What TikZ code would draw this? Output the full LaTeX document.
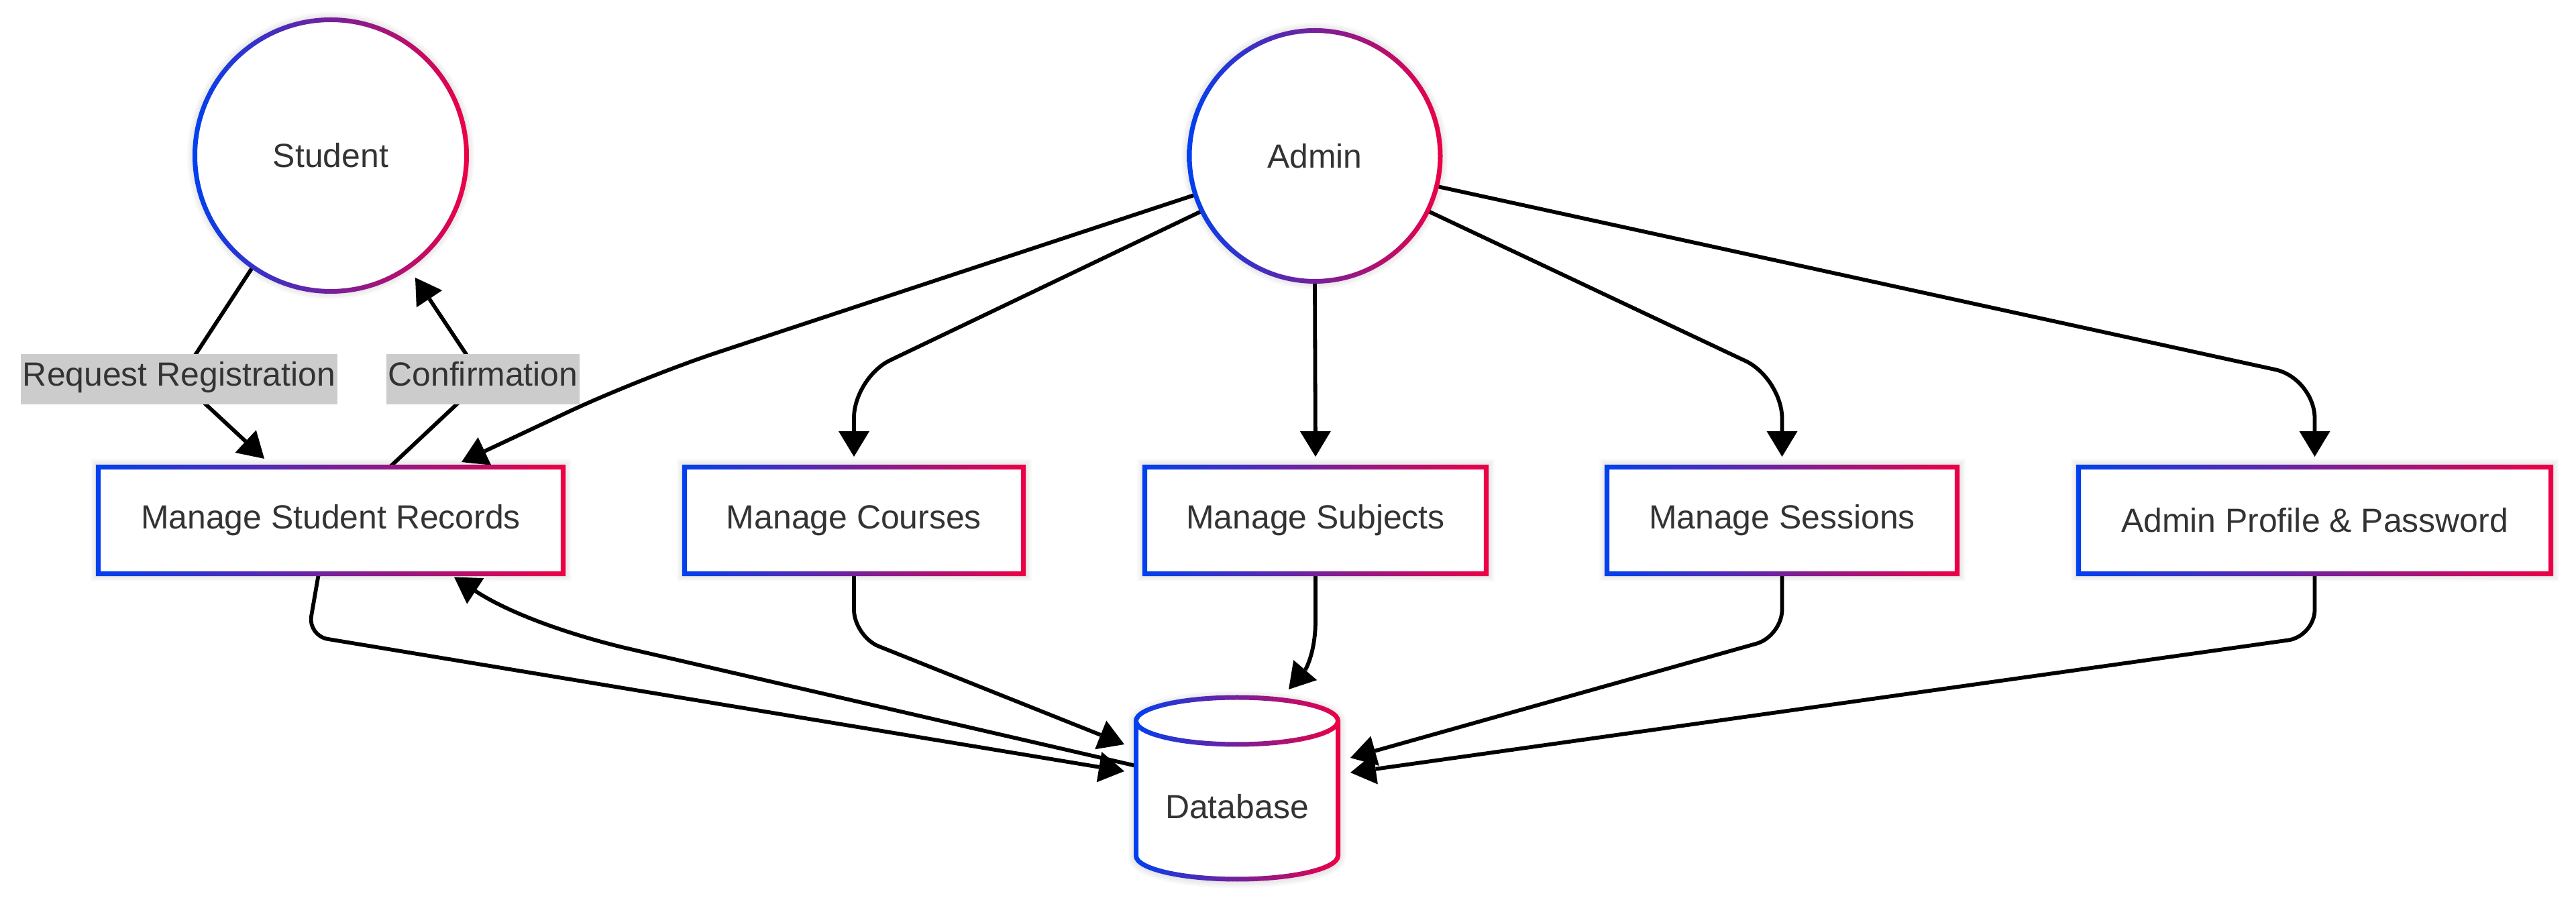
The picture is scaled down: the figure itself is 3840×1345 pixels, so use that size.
\documentclass[tikz,border=0pt]{standalone}
\usepackage{fontspec}
\setmainfont{Liberation Sans}
\usetikzlibrary{arrows.meta,calc}
\definecolor{gblue}{RGB}{0,64,240}
\definecolor{gred}{RGB}{236,0,70}
\definecolor{txt}{HTML}{333333}
\definecolor{lblgray}{HTML}{CCCCCC}
\pgfdeclarelayer{edges}
\pgfdeclarelayer{shapes}
\pgfsetlayers{edges,shapes,main}
\tikzset{
 txtnode/.style={font=\fontsize{14.2pt}{17pt}\selectfont, text=txt, inner sep=0pt, outer sep=0pt},
 actor/.style={txtnode, circle, minimum size=#1},
 procbox/.style={txtnode, rectangle, minimum height=15.9mm, minimum width=#1},
 edgelbl/.style={txtnode, fill=lblgray, inner xsep=0.3mm, minimum height=7.5mm, text height=0.75em, text depth=0.22em},
 conn/.style={line width=0.58mm, black, -{Triangle[length=3.8mm,width=4.6mm,line width=0pt]}},
 gradframe/.style={left color=gblue, right color=gred, even odd rule},
 softshadow/.style={black, opacity=0.018, yshift=-0.15mm},
}
\newcommand\myshadow[1]{%
 \foreach \w in {0.4,0.8,1.2,1.6,2.0,2.4}{\draw[softshadow, line width=\w mm] #1;}}
\newcommand\mydrawboxframe[1]{%
 \myshadow{(#1.north west) rectangle (#1.south east)}
 \fill[white] (#1.north west) rectangle (#1.south east);
 \shade[gradframe] ([shift={(-0.36mm,0.36mm)}]#1.north west) rectangle ([shift={(0.36mm,-0.36mm)}]#1.south east)
   ([shift={(0.36mm,-0.36mm)}]#1.north west) rectangle ([shift={(-0.36mm,0.36mm)}]#1.south east);}
\newcommand\mydrawcircframe[2]{%
 \myshadow{(#1.center) circle[radius=#2mm]}
 \fill[white] (#1.center) circle[radius=#2mm];
 \shade[gradframe] (#1.center) circle[radius=#2mm+0.35mm] (#1.center) circle[radius=#2mm-0.35mm];}
\begin{document}
\begin{tikzpicture}[x=0.1mm,y=-0.1mm]
\useasboundingbox (0,0) rectangle (3840,1345);
% nodes
\node[actor=40.5mm] (student) at (493,232) {Student};
\node[actor=37.4mm] (admin) at (1960,232.5) {Admin};
\node[procbox=69.3mm] (msr) at (493,776) {Manage Student Records};
\node[procbox=50.5mm] (courses) at (1273,776) {Manage Courses};
\node[procbox=50.9mm] (subjects) at (1961,776) {Manage Subjects};
\node[procbox=52.2mm] (sessions) at (2656.5,776) {Manage Sessions};
\node[procbox=70.4mm] (profile) at (3450.5,776) {Admin Profile \& Password};
\node[txtnode, rectangle, minimum width=30.1mm, minimum height=27.1mm,
      label={[txtnode, yshift=-2.75mm]center:Database}] (db) at (1844,1175.5) {};
\node[edgelbl] (lblreq) at (267,566) {Request Registration};
\node[edgelbl] (lblconf) at (720,566) {Confirmation};
% shapes
\begin{pgfonlayer}{shapes}
 \mydrawcircframe{student}{20.25}
 \mydrawcircframe{admin}{18.7}
 \mydrawboxframe{msr}
 \mydrawboxframe{courses}
 \mydrawboxframe{subjects}
 \mydrawboxframe{sessions}
 \mydrawboxframe{profile}
 \myshadow{(1693.5,1075) arc[start angle=180,end angle=0,x radius=15.05mm,y radius=3.5mm]
   -- (1994.5,1276) arc[start angle=0,end angle=-180,x radius=15.05mm,y radius=3.5mm] -- cycle}
 \fill[white] (1693.5,1075) arc[start angle=180,end angle=0,x radius=15.05mm,y radius=3.5mm]
   -- (1994.5,1276) arc[start angle=0,end angle=-180,x radius=15.05mm,y radius=3.5mm] -- cycle;
 \foreach \i in {0,...,47}{
  \pgfmathsetmacro\pct{100*\i/47}
  \begin{scope}
   \clip (1688+\i*6.5,1020) rectangle ++(7,310);
   \draw[line width=0.7mm, draw=gred!\pct!gblue] (1844,1075) ellipse[x radius=15.05mm,y radius=3.5mm]
     (1693.5,1075) -- (1693.5,1276) arc[start angle=180,end angle=360,x radius=15.05mm,y radius=3.5mm] -- (1994.5,1075);
  \end{scope}}
\end{pgfonlayer}
% connectors
\begin{pgfonlayer}{edges}
 \fill[white] (0,0) rectangle (3840,1345);
 \draw[conn] (student.235.8) -- (lblreq.center) -- ($(msr.north)+(-99,-12.5)$);
 \draw[conn] ($(msr.north)+(88,0)$) -- (lblconf.center) -- ($(student.center)+(126,182)$);
 \draw[conn, rounded corners=12mm] (admin.198.2) -- (956,563) -- ($(msr.north)+(195,-7.5)$);
 \draw[conn, rounded corners=6mm] (admin.206) -- (1273,563) -- ($(courses.north)+(0,-15.5)$);
 \draw[conn] (admin.south) -- ($(subjects.north)+(0,-15.5)$);
 \draw[conn, rounded corners=6mm] (admin.334.9) -- (2656.5,564) -- ($(sessions.north)+(0,-15.5)$);
 \draw[conn, rounded corners=6mm] (admin.346.8) -- (3450.5,564) -- ($(profile.north)+(0,-15.5)$);
 \draw[conn, rounded corners=3mm] ($(msr.south)+(-18,0)$) -- (459,948) -- ($(db.west)+(-17.5,-25.5)$);
 \draw[conn] ($(db.west)+(0,-33.5)$) -- (940,968) .. controls (850,947) and (760,915) .. ($(msr.south)+(184,5)$);
 \draw[conn, rounded corners=4mm] (courses.south) -- (1273,949) -- ($(db.west)+(-17.5,-65.5)$);
 \draw[conn] (subjects.south) -- (1961,925) .. controls (1961,975) and (1945,1000) .. ($(db.north)+(77,-12)$);
 \draw[conn, rounded corners=4mm] (sessions.south) -- (2656.5,949) -- ($(db.east)+(18.5,-45.5)$);
 \draw[conn, rounded corners=4mm] (profile.south) -- (3450.5,949) -- ($(db.east)+(18.5,-23.5)$);
\end{pgfonlayer}
\end{tikzpicture}
\end{document}
